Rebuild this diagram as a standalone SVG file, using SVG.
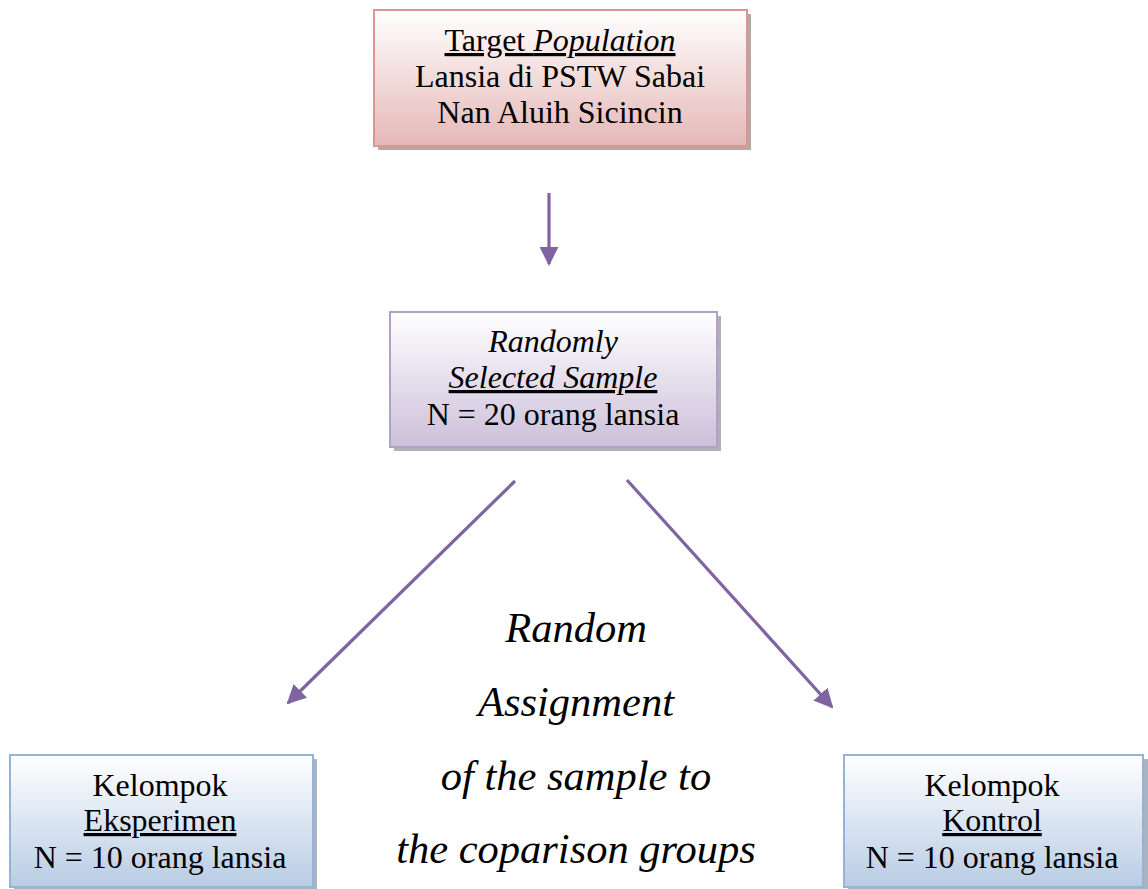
<svg xmlns="http://www.w3.org/2000/svg" width="1148" height="889" viewBox="0 0 1148 889">
<defs>
<linearGradient id="gRed" x1="0" y1="0" x2="0" y2="1"><stop offset="0" stop-color="#ffffff"/><stop offset="1" stop-color="#e5b8b7"/></linearGradient>
<linearGradient id="gPur" x1="0" y1="0" x2="0" y2="1"><stop offset="0" stop-color="#ffffff"/><stop offset="1" stop-color="#ccc0da"/></linearGradient>
<linearGradient id="gBlu" x1="0" y1="0" x2="0" y2="1"><stop offset="0" stop-color="#ffffff"/><stop offset="1" stop-color="#b8cce4"/></linearGradient>
<marker id="ah" viewBox="0 0 10 10" refX="9" refY="5" markerWidth="6" markerHeight="6" markerUnits="strokeWidth" orient="auto"><path d="M0,0 L10,5 L0,10 Z" fill="#8064a2"/></marker>
<style>
text{font-family:"Liberation Serif","Times New Roman",serif;fill:#000;text-anchor:middle;}
.t{font-size:32px;}
.m{font-size:42.5px;font-style:italic;}
.i{font-style:italic;}
.u{text-decoration:underline;}
.conn{stroke:#8064a2;stroke-width:3.2;fill:none;marker-end:url(#ah);}
</style>
</defs>
<g id="target">
<rect x="378" y="14" width="373" height="136" fill="#a08a8a" opacity="0.75"/>
<rect x="374" y="10" width="373" height="136" fill="url(#gRed)" stroke="#d99694" stroke-width="2"/>
<text class="t u" x="560" y="51">Target <tspan class="i">Population</tspan></text>
<text class="t" x="560" y="87">Lansia di PSTW Sabai</text>
<text class="t" x="560" y="123">Nan Aluih Sicincin</text>
</g>
<g id="sample">
<rect x="394" y="316" width="327" height="135" fill="#9a93a3" opacity="0.75"/>
<rect x="390" y="312" width="327" height="135" fill="url(#gPur)" stroke="#b2a1c7" stroke-width="2"/>
<text class="t i" x="553" y="352">Randomly</text>
<text class="t i u" x="553" y="388">Selected Sample</text>
<text class="t" x="553" y="425">N = 20 orang lansia</text>
</g>
<g id="eksperimen">
<rect x="14" y="759" width="303" height="132" fill="#8d9aab" opacity="0.75"/>
<rect x="10" y="755" width="303" height="132" fill="url(#gBlu)" stroke="#95b3d7" stroke-width="2"/>
<text class="t" x="160" y="796">Kelompok</text>
<text class="t u" x="160" y="831">Eksperimen</text>
<text class="t" x="160" y="868">N = 10 orang lansia</text>
</g>
<g id="kontrol">
<rect x="848" y="759" width="300" height="132" fill="#8d9aab" opacity="0.75"/>
<rect x="844" y="755" width="299" height="132" fill="url(#gBlu)" stroke="#95b3d7" stroke-width="2"/>
<text class="t" x="992" y="796">Kelompok</text>
<text class="t u" x="992" y="831">Kontrol</text>
<text class="t" x="992" y="868">N = 10 orang lansia</text>
</g>
<g id="assignment">
<text class="m" x="576" y="642">Random</text>
<text class="m" x="576" y="716">Assignment</text>
<text class="m" x="576" y="790">of the sample to</text>
<text class="m" x="576" y="863">the coparison groups</text>
</g>
<g id="connectors">
<line class="conn" x1="549" y1="193" x2="549" y2="264"/>
<line class="conn" x1="515" y1="481" x2="288" y2="703"/>
<line class="conn" x1="627" y1="480" x2="832" y2="707"/>
</g>
</svg>
